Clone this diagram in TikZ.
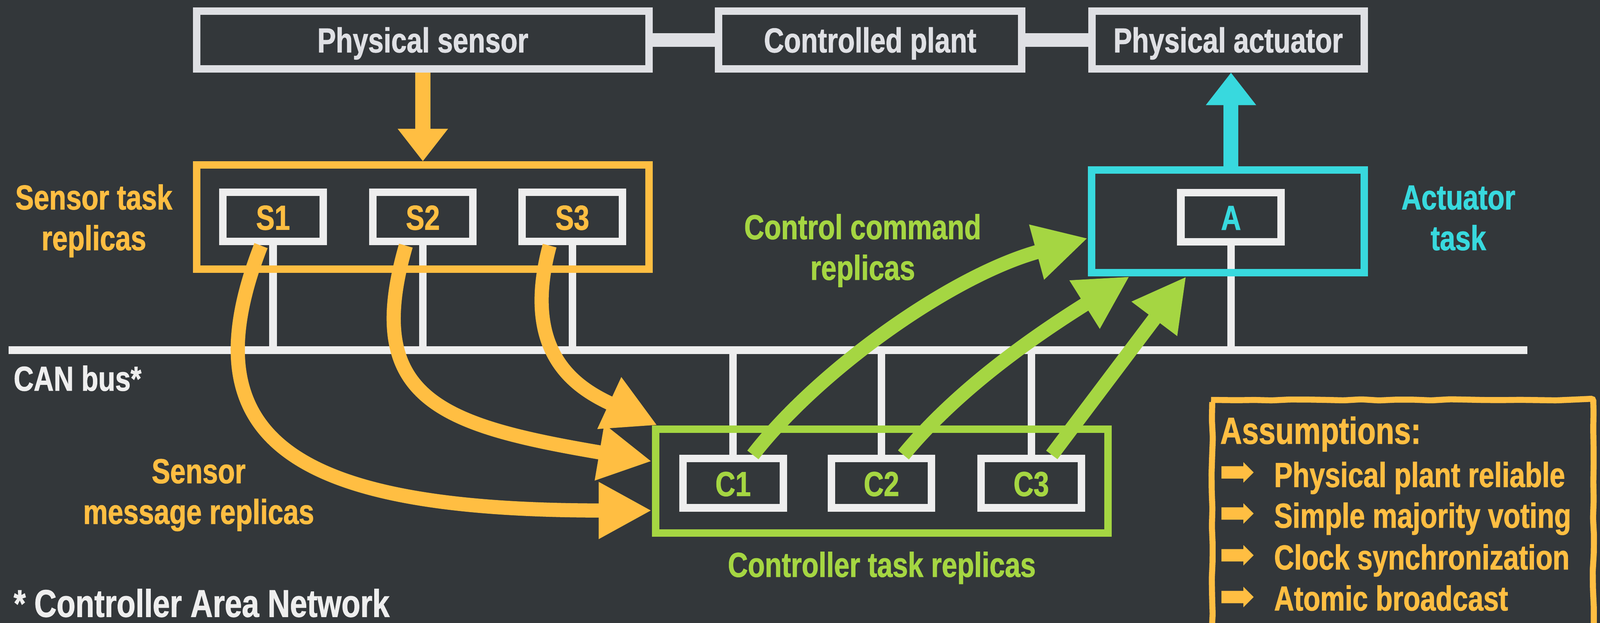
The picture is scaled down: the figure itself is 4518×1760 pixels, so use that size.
\documentclass[tikz,border=0pt]{standalone}
\usepackage{fontspec}
\setmainfont{Liberation Sans}[FakeStretch=0.80,FakeBold=1.2]
\usetikzlibrary{arrows.meta,calc,decorations.pathmorphing}
\definecolor{bgc}{HTML}{33373A}
\definecolor{topgrey}{HTML}{DFE0E4}
\definecolor{unitwhite}{HTML}{EEEEEE}
\definecolor{sorange}{HTML}{FFBE42}
\definecolor{cgreen}{HTML}{A5D642}
\definecolor{acyan}{HTML}{38D9DE}
\pgfdeclarelayer{bglayer}
\pgfdeclarelayer{back}
\pgfsetlayers{bglayer,back,main}
\begin{document}
\begin{tikzpicture}[x=0.01cm,y=-0.01cm,
  font=\bfseries\fontsize{27.8}{32.7}\selectfont,
  every node/.style={inner sep=0pt},
  topbox/.style={draw=topgrey, line width=0.21cm, fill=bgc, minimum height=1.63cm,
    text=topgrey, text height=0.7cm, text depth=0cm},
  unitbox/.style={draw=unitwhite, line width=0.21cm, fill=bgc, minimum width=2.83cm,
    minimum height=1.39cm, text height=0.72cm, text depth=0cm},
  groupbox/.style={line width=0.21cm, minimum height=2.94cm},
  wire/.style={draw=unitwhite, line width=0.21cm},
  flow/.style={line width=0.4cm, -{Triangle[length=1.5cm,width=1.5cm]}},
  feed/.style={line width=0.42cm, -{Triangle[length=0.92cm,width=1.36cm]}}]

\begin{pgfonlayer}{bglayer}
  \fill[bgc] (0,0) rectangle (4518,1760);
\end{pgfonlayer}
\useasboundingbox (0,0) rectangle (4518,1760);
\clip (0,0) rectangle (4518,1760);

% top row
\node[topbox, minimum width=12.77cm] (psens) at (1194,113) {Physical sensor};
\node[topbox, minimum width=8.55cm] (plant) at (2457,113) {Controlled plant};
\node[topbox, minimum width=7.69cm] (pact) at (3468,113) {Physical actuator};
\draw[topgrey, line width=0.39cm] (psens.east) -- (plant.west);
\draw[topgrey, line width=0.39cm] (plant.east) -- (pact.west);

% group boxes
\node[groupbox, draw=sorange, minimum width=12.77cm] (sgrp) at (1194,613.5) {};
\node[groupbox, draw=cgreen, minimum width=12.77cm] (cgrp) at (2490,1359.5) {};
\node[groupbox, draw=acyan, minimum width=7.70cm, minimum height=2.90cm] (agrp) at (3467.5,625.5) {};

% replica units
\node[unitbox, text=sorange] (S1) at (771,613) {S1};
\node[unitbox, text=sorange] (S2) at (1194,613) {S2};
\node[unitbox, text=sorange] (S3) at (1616,613) {S3};
\node[unitbox, text=cgreen] (C1) at (2070,1365.5) {C1};
\node[unitbox, text=cgreen] (C2) at (2489,1365.5) {C2};
\node[unitbox, text=cgreen] (C3) at (2912,1365.5) {C3};
\node[unitbox, text=acyan] (A) at (3476,613.5) {A};

% CAN bus and stubs
\coordinate (busL) at (24,989);
\coordinate (busR) at (4313,989);
\begin{pgfonlayer}{back}
  \draw[unitwhite, line width=0.22cm] (busL) -- (busR);
  \foreach \u in {S1,S2,S3} \draw[wire] (\u.south) -- (\u.south |- busL);
  \foreach \u in {C1,C2,C3} \draw[wire] (\u.north) -- (\u.north |- busL);
  \draw[wire] (A.south) -- (A.south |- busL);
\end{pgfonlayer}

% physical feeds
\draw[feed, sorange] (psens.south) -- (sgrp.north);
\draw[feed, acyan] (A.center |- agrp.north) -- (A.center |- pact.south);

% sensor message replicas
\draw[flow, sorange] ($(S1.south)+(-34,1)$) .. controls +(-217,556) and +(-1000,0) .. ($(cgrp.west)+(0,83)$);
\draw[flow, sorange] ($(S2.south)+(-48,1)$) .. controls +(-126,436) and +(-592,-101) .. ($(cgrp.west)+(0,-56)$);
\draw[flow, sorange] ($(S3.south)+(-64,1)$) .. controls +(-82,306) and +(-227,-105) .. ($(cgrp.north west)+(16,0)$);

% control command replicas
\draw[flow, cgreen] ($(C1.north)+(56,0)$) .. controls +(183,-237) and +(-386,105) .. ($(agrp.west)+(0,47.5)$);
\draw[flow, cgreen] ($(C2.north)+(62,0)$) .. controls +(159,-193) and +(-254,159) .. ($(agrp.south west)+(118,0)$);
\draw[flow, cgreen] ($(C3.north)+(58,0)$) -- ($(agrp.south west)+(278,0)$);

% labels
\node[text=sorange, align=center] (lsens) at (265,624) {Sensor task\\replicas};
\node[text=acyan, align=center] (lact) at (4118,616) {Actuator\\task};
\node[text=cgreen, align=center] (lcmd) at (2436,708) {Control command\\replicas};
\node[text=sorange, align=center] (lmsg) at (561,1399) {Sensor\\message replicas};
\node[text=unitwhite, anchor=base west] (lcan) at (38,1104) {CAN bus*};
\node[text=unitwhite, anchor=base west, font=\bfseries\fontsize{31}{36}\selectfont] (lnote) at (38,1743) {* Controller Area Network};
\node[text=cgreen, anchor=base] (lctrl) at (2490,1630) {Controller task replicas};

% assumptions box
\draw[sorange, line width=0.17cm, rounded corners=0.06cm, decorate,
  decoration={random steps, segment length=0.5cm, amplitude=0.02cm}]
  (3423,1130) rectangle (4499,1820);
\node[text=sorange, anchor=base west, font=\bfseries\fontsize{30.2}{36}\selectfont] (lass) at (3445,1254) {Assumptions:};
\foreach \yy in {1335,1451,1569,1687}
  \fill[sorange] (3449,\yy-17.5) -- (3511,\yy-17.5) -- (3511,\yy-29) -- (3540,\yy)
    -- (3511,\yy+29) -- (3511,\yy+17.5) -- (3449,\yy+17.5) -- cycle;
\node[text=sorange, anchor=base west] (as1) at (3597,1376) {Physical plant reliable};
\node[text=sorange, anchor=base west] (as2) at (3597,1491) {Simple majority voting};
\node[text=sorange, anchor=base west] (as3) at (3597,1609) {Clock synchronization};
\node[text=sorange, anchor=base west] (as4) at (3597,1725) {Atomic broadcast};
\end{tikzpicture}
\end{document}
